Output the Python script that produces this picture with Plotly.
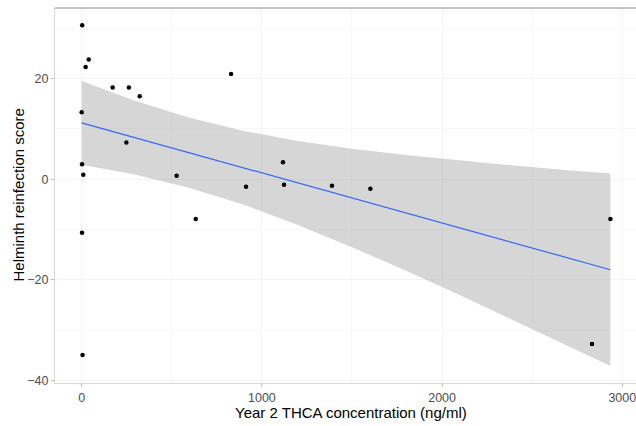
import plotly.graph_objects as go

# Scatter data (Year 2 THCA concentration vs helminth reinfection score)
thca = [3, 22, 39, 172, 262, 322, 829, 0, 248, 2, 9, 527, 912, 1117, 1123,
        633, 2, 5, 1389, 1602, 2934, 2832]
score = [30.6, 22.3, 23.8, 18.2, 18.2, 16.5, 20.9, 13.3, 7.3, 3.0, 0.9, 0.7,
         -1.5, 3.4, -1.1, -7.9, -10.6, -34.9, -1.3, -1.9, -7.9, -32.7]

# Linear smooth
fit_x = [0, 2934]
fit_y = [11.2, -17.96]

band_x = [0, 300, 600, 900, 1200, 1500, 1800, 2100, 2400, 2700, 2934]
band_hi = [19.53, 15.55, 12.20, 9.58, 7.60, 6.06, 4.80, 3.71, 2.72, 1.81, 1.14]
band_lo = [2.87, 0.89, -1.72, -5.08, -9.06, -13.48, -18.18, -23.05, -28.04, -33.09, -37.06]

x_ticks = [0, 1000, 2000, 3000]
y_ticks = [-40, -20, 0, 20]

FONT = "Liberation Sans, Arial, Helvetica, sans-serif"

fig = go.Figure()

fig.add_trace(go.Scatter(
    x=band_x + band_x[::-1],
    y=band_hi + band_lo[::-1],
    fill="toself",
    fillcolor="rgba(153,153,153,0.4)",
    line=dict(width=0),
    mode="lines",
    hoverinfo="skip",
    showlegend=False,
))
fig.add_trace(go.Scatter(
    x=fit_x, y=fit_y, mode="lines",
    line=dict(color="#3366FF", width=1.2),
    showlegend=False,
))
fig.add_trace(go.Scatter(
    x=thca, y=score, mode="markers",
    marker=dict(color="black", size=4.5),
    showlegend=False,
))

axis_common = dict(
    automargin=False,
    showgrid=True,
    gridcolor="#F3F3F3",
    gridwidth=1,
    zeroline=False,
    ticks="outside",
    ticklen=3,
    tickwidth=1,
    tickcolor="#BDBDBD",
    tickfont=dict(family=FONT, size=12.5, color="#4D4D4D"),
    ticklabeloverflow="allow",
    showline=True,
    linecolor="#DADADA",
    linewidth=1,
)

fig.update_layout(
    width=636, height=426,
    margin=dict(l=55, r=0, t=8, b=43),
    paper_bgcolor="white",
    plot_bgcolor="white",
    font=dict(family=FONT),
    xaxis=dict(
        range=[-148, 3076],
        tickvals=x_ticks,
        ticktext=[str(v) for v in x_ticks],
        minor=dict(tickvals=[500, 1500, 2500], showgrid=True, gridcolor="#F7F7F7", ticks=""),
        **axis_common,
    ),
    yaxis=dict(
        range=[-40.45, 34.0],
        tickvals=y_ticks,
        ticktext=[str(v).replace("-", "\u2212") for v in y_ticks],
        minor=dict(tickvals=[-30, -10, 10, 30], showgrid=True, gridcolor="#F7F7F7", ticks=""),
        **axis_common,
    ),
    annotations=[
        dict(
            text="Year 2 THCA concentration (ng/ml)",
            xref="paper", yref="paper", x=0.5095, y=-30 / 375.3,
            xanchor="center", yanchor="middle", showarrow=False,
            font=dict(family=FONT, size=15, color="black"),
        ),
        dict(
            text="Helminth reinfection score",
            xref="paper", yref="paper", x=-37 / 581, y=0.5,
            xanchor="center", yanchor="middle", showarrow=False, textangle=-90,
            font=dict(family=FONT, size=15, color="black"),
        ),
    ],
    shapes=[dict(
        type="line", xref="paper", yref="paper", x0=0, x1=1, y0=1, y1=1,
        line=dict(color="#AFAFAF", width=1.5),
    )],
)

fig.write_html(
    "out.html",
    config={"displayModeBar": False},
    post_script="document.body.style.margin='0';document.body.style.overflow='hidden';",
)
